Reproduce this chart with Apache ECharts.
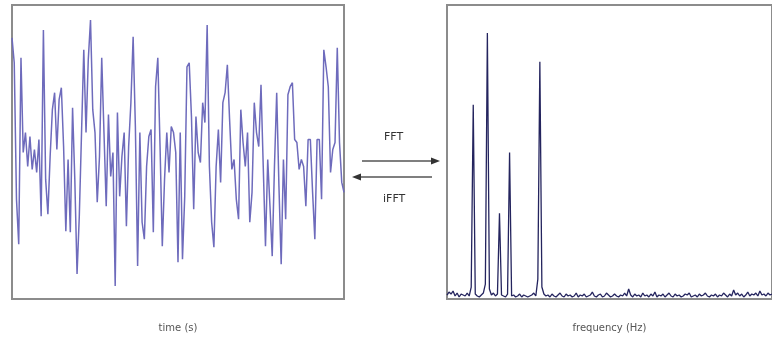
<!DOCTYPE html>
<html>
<head>
<meta charset="utf-8">
<script src="https://cdn.jsdelivr.net/npm/echarts@6/dist/echarts.min.js"></script>
<style>html,body{margin:0;padding:0;background:#fff}#c{width:772px;height:338px}</style>
</head>
<body>
<div id="c"></div>
<script>
// Time-domain signal (amplitude)
var timeSignal = [262,237,100,55,242,147,167,133,163,130,150,127,160,83,270,120,85,143,190,207,150,200,212,153,68,140,67,192,120,25,83,167,250,167,240,280,190,167,97,143,242,167,93,185,123,147,13,187,103,143,167,73,153,197,263,173,33,167,77,60,133,163,170,67,213,242,153,53,120,167,127,173,167,147,37,
  167,40,103,233,237,183,90,183,147,137,197,177,275,133,77,52,133,170,117,197,207,235,180,130,140,100,80,190,157,133,167,77,107,197,167,153,215,133,53,140,93,43,133,207,113,35,140,80,205,213,217,160,157,130,140,133,93,160,160,107,60,160,160,100,250,233,213,127,150,157,252,157,117,107];

// Frequency-domain magnitude
var spectrum = [4,7,5,8,3,6,2,5,4,3,6,3,12,195,5,3,2,4,6,15,267,10,4,6,3,5,86,4,3,2,5,147,3,4,2,3,5,2,4,3,2,3,4,6,3,20,238,12,5,3,
  4,2,5,3,2,4,6,3,2,5,3,4,2,3,6,2,4,3,5,2,3,4,7,3,2,4,5,2,3,6,4,2,3,5,3,2,4,3,6,3,10,4,2,5,3,4,2,6,3,4,
  2,5,3,7,2,4,3,5,2,4,6,3,2,5,3,4,2,3,5,4,6,2,3,4,2,5,3,4,6,3,2,4,3,5,2,4,3,6,4,2,5,3,9,4,6,3,5,2,4,7,
  3,5,4,6,3,8,4,5,3,6,4,5];

var timeIdx = timeSignal.map(function(_, i){ return i; });
var freqIdx = spectrum.map(function(_, i){ return i; });

var chart = echarts.init(document.getElementById('c'), null, {renderer:'canvas'});
var txt = '#555';
chart.setOption({
  animation: false,
  backgroundColor: '#fff',
  grid: [
    {left: 12, top: 5, width: 332, height: 295, show: true, borderColor: '#8c8c8c', borderWidth: 2, backgroundColor: '#fff'},
    {left: 447, top: 5, width: 327, height: 295, show: true, borderColor: '#8c8c8c', borderWidth: 2, backgroundColor: '#fff'}
  ],
  xAxis: [
    {gridIndex: 0, type: 'category', data: timeIdx, boundaryGap: false,
     axisLine: {show: false}, axisTick: {show: false}, axisLabel: {show: false}, splitLine: {show: false},
     name: 'time (s)', nameLocation: 'middle', nameGap: 24,
     nameTextStyle: {color: txt, fontSize: 10, fontFamily: 'DejaVu Sans'}},
    {gridIndex: 1, type: 'category', data: freqIdx, boundaryGap: false,
     axisLine: {show: false}, axisTick: {show: false}, axisLabel: {show: false}, splitLine: {show: false},
     name: 'frequency (Hz)', nameLocation: 'middle', nameGap: 24,
     nameTextStyle: {color: txt, fontSize: 10, fontFamily: 'DejaVu Sans'}}
  ],
  yAxis: [
    {gridIndex: 0, type: 'value', min: 0, max: 295, show: false},
    {gridIndex: 1, type: 'value', min: 0, max: 295, show: false}
  ],
  series: [
    {type: 'line', xAxisIndex: 0, yAxisIndex: 0, data: timeSignal, symbol: 'none',
     lineStyle: {color: '#6e6bbc', width: 1.5}},
    {type: 'line', xAxisIndex: 1, yAxisIndex: 1, data: spectrum, symbol: 'none',
     lineStyle: {color: '#24245e', width: 1.3}}
  ],
  graphic: [
    {type: 'text', left: 384, top: 132, style: {text: 'FFT', fill: '#333', font: '11px "DejaVu Sans"'}},
    {type: 'text', left: 383, top: 194, style: {text: 'iFFT', fill: '#333', font: '11px "DejaVu Sans"'}},
    {type: 'line', shape: {x1: 362, y1: 161, x2: 432, y2: 161}, style: {stroke: '#555', lineWidth: 1.5}},
    {type: 'polygon', shape: {points: [[440,161],[431,157.5],[431,164.5]]}, style: {fill: '#333'}},
    {type: 'line', shape: {x1: 360, y1: 177, x2: 432, y2: 177}, style: {stroke: '#555', lineWidth: 1.5}},
    {type: 'polygon', shape: {points: [[352,177],[361,173.5],[361,180.5]]}, style: {fill: '#333'}}
  ]
});
</script>
</body>
</html>
